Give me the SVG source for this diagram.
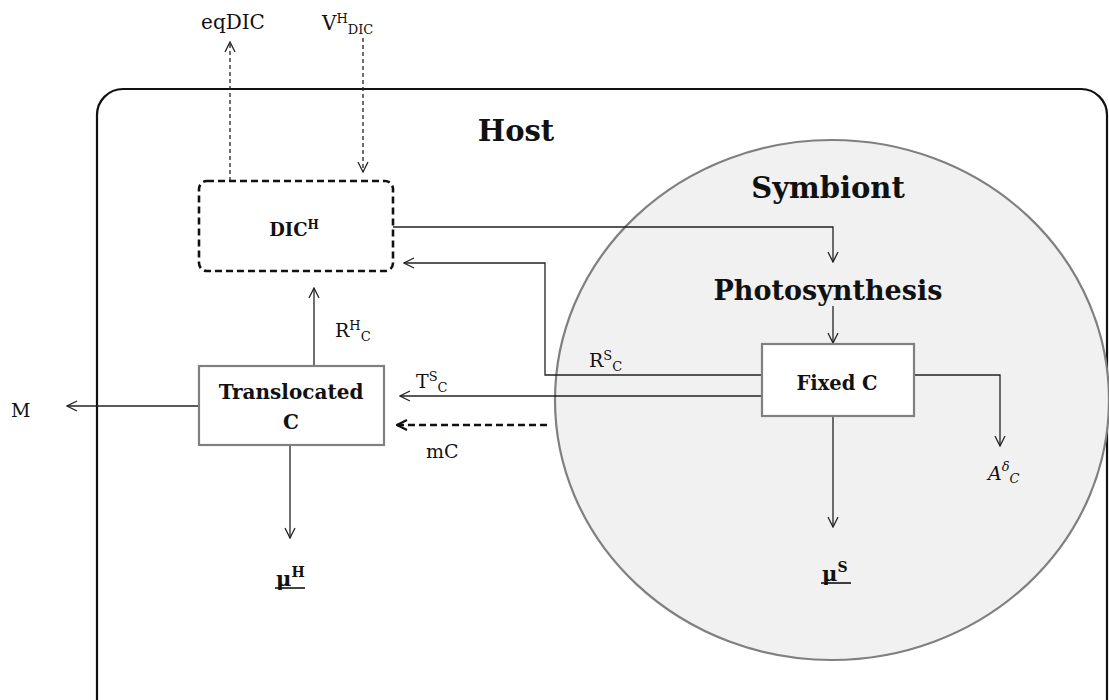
<svg xmlns="http://www.w3.org/2000/svg" width="1109" height="700" viewBox="0 0 1109 700">
<style>
.t{font-family:"DejaVu Serif","Liberation Serif",serif;fill:#111}
.b{font-weight:bold}
.ln{fill:none;stroke:#222;stroke-width:1.3}
.box{fill:#fff;stroke:#808080;stroke-width:2.2}
.ul{stroke:#111;stroke-width:1.6}
</style>
<defs>
<marker id="ah" viewBox="0 0 12 12" refX="11" refY="6" markerWidth="12" markerHeight="12" markerUnits="userSpaceOnUse" orient="auto">
<path d="M1,1 L11,6 L1,11" fill="none" stroke="#222" stroke-width="1.3"/>
</marker>
<marker id="ahb" viewBox="0 0 12 12" refX="11" refY="6" markerWidth="12" markerHeight="12" markerUnits="userSpaceOnUse" orient="auto">
<path d="M1,1 L11,6 L1,11" fill="none" stroke="#111" stroke-width="2.2"/>
</marker>
</defs>
<rect width="1109" height="700" fill="#fff"/>
<g id="host">
<rect x="97" y="89" width="1010" height="640" rx="26" fill="#fff" stroke="#111" stroke-width="2.2"/>
<text class="t b" x="516" y="141" font-size="29" text-anchor="middle">Host</text>
</g>
<g id="symbiont">
<ellipse cx="832" cy="400" rx="277" ry="260" fill="#f1f1f1" stroke="#808080" stroke-width="2.2"/>
<text class="t b" x="828" y="198" font-size="29" text-anchor="middle">Symbiont</text>
</g>
<g id="photosynthesis">
<text class="t b" x="828" y="300" font-size="27" text-anchor="middle">Photosynthesis</text>
</g>
<g id="connectors">
<path class="ln" d="M230,181 V42" stroke-dasharray="4,3" marker-end="url(#ah)"/>
<path class="ln" d="M363,38 V172" stroke-dasharray="4,3" marker-end="url(#ah)"/>
<path class="ln" d="M393,227 H833 V262" marker-end="url(#ah)"/>
<path class="ln" d="M833,306 V343" marker-end="url(#ah)"/>
<path class="ln" d="M762,375 H545 V263 H404" marker-end="url(#ah)"/>
<path class="ln" d="M762,396 H400" marker-end="url(#ah)"/>
<path d="M547,425 H397" fill="none" stroke="#111" stroke-width="2.4" stroke-dasharray="7,4" marker-end="url(#ahb)"/>
<path class="ln" d="M914,375 H1000 V446" marker-end="url(#ah)"/>
<path class="ln" d="M833,416 V527" marker-end="url(#ah)"/>
<path class="ln" d="M314,366 V288" marker-end="url(#ah)"/>
<path class="ln" d="M199,406 H67" marker-end="url(#ah)"/>
<path class="ln" d="M290,445 V538" marker-end="url(#ah)"/>
</g>
<g id="dic">
<rect x="199" y="181" width="194" height="90" rx="8" fill="#fff" stroke="#111" stroke-width="2.6" stroke-dasharray="7,4"/>
<text class="t b" x="294" y="236" font-size="18" text-anchor="middle">DIC<tspan font-size="12" dy="-7">H</tspan></text>
</g>
<g id="fixedC">
<rect class="box" x="762" y="344" width="152" height="72"/>
<text class="t b" x="837" y="390" font-size="19.5" text-anchor="middle">Fixed C</text>
</g>
<g id="translocatedC">
<rect class="box" x="199" y="366" width="185" height="79"/>
<text class="t b" x="291" y="399" font-size="20" text-anchor="middle">Translocated</text>
<text class="t b" x="291" y="429" font-size="20" text-anchor="middle">C</text>
</g>
<g id="labels">
<text class="t" x="233" y="29" font-size="20" text-anchor="middle">eqDIC</text>
<text class="t" x="322" y="30" font-size="20">V<tspan font-size="13" dy="-7">H</tspan><tspan font-size="13" dy="11">DIC</tspan></text>
<text class="t" x="335" y="337" font-size="19">R<tspan font-size="13" dy="-7">H</tspan><tspan font-size="13" dy="11">C</tspan></text>
<text class="t" x="416" y="388" font-size="19">T<tspan font-size="13" dy="-7">S</tspan><tspan font-size="13" dy="11">C</tspan></text>
<text class="t" x="589" y="367" font-size="19">R<tspan font-size="13" dy="-7">S</tspan><tspan font-size="13" dy="11">C</tspan></text>
<text class="t" x="426" y="458" font-size="19">mC</text>
<text class="t" x="11" y="417" font-size="19">M</text>
<text class="t" x="988" y="480" font-size="19" font-style="italic">A<tspan font-size="13" dy="-9">δ</tspan><tspan font-size="13" dy="12">C</tspan></text>
<text class="t b" x="276" y="586" font-size="21">μ<tspan font-size="14" dy="-9">H</tspan></text>
<line class="ul" x1="275" y1="588" x2="305" y2="588"/>
<text class="t b" x="822" y="581" font-size="21">μ<tspan font-size="14" dy="-9">S</tspan></text>
<line class="ul" x1="821" y1="583" x2="851" y2="583"/>
</g>
</svg>
